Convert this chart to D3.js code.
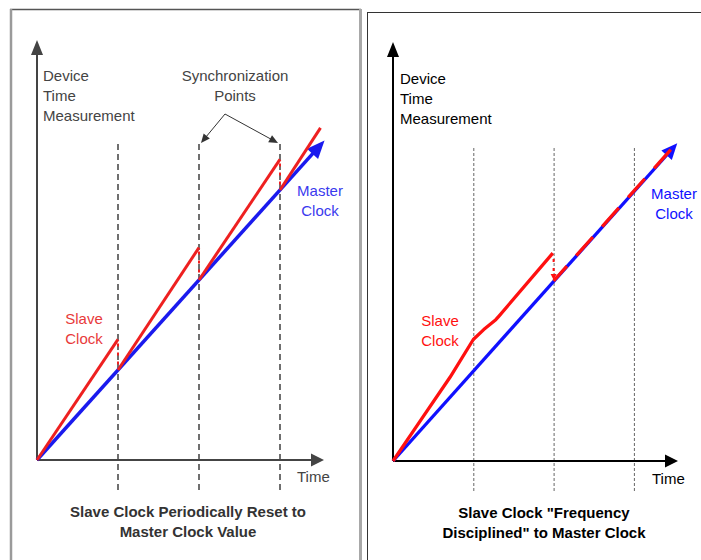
<!DOCTYPE html>
<html>
<head>
<meta charset="utf-8">
<script src="https://cdn.jsdelivr.net/npm/d3@7"></script>
<style>
  body { margin: 0; background: #fff; }
  svg text { font-family: "Liberation Sans", Arial, sans-serif; }
</style>
</head>
<body>
<div id="chart-container"></div>
<script>
/**************************************************
 * Data
 **************************************************/

// sync points on the time axis (same for both panels)
const syncTimes = [1, 2, 3];

// left panel: slave is reset to master value at each sync point
const masterLeft = [[0, 0], [3.55, 3.55]];
const slaveLeftSegments = [
  [[0, 0], [1, 1.34]],
  [[1, 1], [2, 2.36]],
  [[2, 2], [3, 3.34]],
  [[3, 3], [3.5, 3.69]]
];
// vertical jumps at the resets: [time, from, to]
const slaveLeftResets = [[1, 1.34, 1], [2, 2.36, 2], [3, 3.34, 3]];

// right panel: slave frequency disciplined, then locked onto master
const masterRight = [[0, 0], [3.54, 3.53]];
const slaveRightCurve = [
  [0, 0], [0.35, 0.46], [0.71, 0.93], [1.0, 1.35],
  [1.13, 1.46], [1.28, 1.57], [1.32, 1.61], [1.99, 2.31]
];
const slaveRightLocked = [[2, 2], [3.49, 3.49]];
const slaveRightReset = [2, 2.31, 2.0];

const yLabelLines = ["Device", "Time", "Measurement"];
const leftCaption = ["Slave Clock Periodically Reset to", "Master Clock Value"];
const rightCaption = ["Slave Clock \"Frequency", "Disciplined\" to Master Clock"];

/**************************************************
 * Helpers
 **************************************************/

const W = 701, H = 560;

const svg = d3.select("#chart-container")
  .append("svg")
  .attr("width", W)
  .attr("height", H);

// filled triangle with its tip at (x1,y1), pointing away from (x0,y0)
function arrowHead(g, x0, y0, x1, y1, len, half, color) {
  const a = Math.atan2(y1 - y0, x1 - x0);
  const bx = x1 - len * Math.cos(a), by = y1 - len * Math.sin(a);
  const px = -Math.sin(a) * half, py = Math.cos(a) * half;
  g.append("path")
    .attr("d", `M${x1},${y1}L${bx + px},${by + py}L${bx - px},${by - py}Z`)
    .attr("fill", color);
}

// line that stops short of the tip, then a head on it
function arrowLine(g, x0, y0, x1, y1, len, half, color, width) {
  const a = Math.atan2(y1 - y0, x1 - x0);
  g.append("line")
    .attr("x1", x0).attr("y1", y0)
    .attr("x2", x1 - (len - 2) * Math.cos(a))
    .attr("y2", y1 - (len - 2) * Math.sin(a))
    .attr("stroke", color)
    .attr("stroke-width", width);
  arrowHead(g, x0, y0, x1, y1, len, half, color);
}

function textLines(g, lines, x, y0, step, opts) {
  lines.forEach((t, i) => {
    g.append("text")
      .attr("x", x)
      .attr("y", y0 + i * step)
      .attr("text-anchor", opts.anchor || "start")
      .attr("font-size", opts.size || "15px")
      .attr("font-weight", opts.weight || "normal")
      .attr("fill", opts.fill || "#000")
      .text(t);
  });
}

const line = d3.line();

/**************************************************
 * Panel frames
 **************************************************/

svg.append("line").attr("x1", 10).attr("y1", 9.5).attr("x2", 361).attr("y2", 9.5)
  .attr("stroke", "#555").attr("stroke-width", 1.5);
svg.append("line").attr("x1", 11).attr("y1", 9).attr("x2", 11).attr("y2", H)
  .attr("stroke", "#9a9a9a").attr("stroke-width", 2.5);
svg.append("line").attr("x1", 360.5).attr("y1", 9).attr("x2", 360.5).attr("y2", H)
  .attr("stroke", "#a8a8a8").attr("stroke-width", 3);

svg.append("rect")
  .attr("x", 367.5).attr("y", 12.5)
  .attr("width", 400).attr("height", 600)
  .attr("fill", "none")
  .attr("stroke", "#333")
  .attr("stroke-width", 1);

/**************************************************
 * Left panel
 **************************************************/

const gl = svg.append("g");
const xL = d3.scaleLinear().domain([0, 1]).range([37, 118]);
const yL = d3.scaleLinear().domain([0, 1]).range([460, 370]);

// sync point guides
gl.selectAll(".sync")
  .data(syncTimes)
  .enter()
  .append("line")
  .attr("x1", d => xL(d)).attr("x2", d => xL(d))
  .attr("y1", 144).attr("y2", 491)
  .attr("stroke", "#333")
  .attr("stroke-width", 1.4)
  .attr("stroke-dasharray", "6,4");

// axes
arrowLine(gl, xL(0), yL(0), xL(0), 40, 15, 6, "#444", 2);
arrowLine(gl, xL(0), yL(0), 324, yL(0), 13, 6.5, "#444", 2);

// master (blue)
const mL = masterLeft.map(d => [xL(d[0]), yL(d[1])]);
arrowLine(gl, mL[0][0], mL[0][1], mL[1][0], mL[1][1], 18, 7.5, "#1a1aee", 3.5);

// slave (red)
gl.selectAll(".slave")
  .data(slaveLeftSegments)
  .enter()
  .append("path")
  .attr("d", d => line(d.map(p => [xL(p[0]), yL(p[1])])))
  .attr("fill", "none")
  .attr("stroke", "#ee2020")
  .attr("stroke-width", 3);

gl.selectAll(".reset")
  .data(slaveLeftResets)
  .enter()
  .append("line")
  .attr("x1", d => xL(d[0])).attr("x2", d => xL(d[0]))
  .attr("y1", d => yL(d[1]) + 4).attr("y2", d => yL(d[2]) - 2)
  .attr("stroke", "#ee2020")
  .attr("stroke-width", 2)
  .attr("stroke-dasharray", "3,6");

// labels
textLines(gl, yLabelLines, 43, 81, 20, { fill: "#444" });
textLines(gl, ["Synchronization", "Points"], 235, 81, 20, { anchor: "middle", fill: "#444" });
arrowLine(gl, 225, 114, xL(syncTimes[1]) + 2, 143, 9, 4, "#333", 1);
arrowLine(gl, 225, 114, xL(syncTimes[2]) - 2, 143, 9, 4, "#333", 1);
textLines(gl, ["Master", "Clock"], 320, 196, 20, { anchor: "middle", fill: "#3a3aee" });
textLines(gl, ["Slave", "Clock"], 84, 324, 20, { anchor: "middle", fill: "#e83a3a" });
textLines(gl, ["Time"], 297, 482, 20, { fill: "#444" });
textLines(gl, leftCaption, 188, 517, 20, { anchor: "middle", weight: "bold", fill: "#333" });

/**************************************************
 * Right panel
 **************************************************/

const gr = svg.append("g");
const xR = d3.scaleLinear().domain([0, 1]).range([393, 473.3]);
const yR = d3.scaleLinear().domain([0, 1]).range([461, 371]);

gr.selectAll(".sync")
  .data(syncTimes)
  .enter()
  .append("line")
  .attr("x1", d => xR(d) + 0.5).attr("x2", d => xR(d) + 0.5)
  .attr("y1", 148).attr("y2", 491)
  .attr("stroke", "#666")
  .attr("stroke-width", 1)
  .attr("stroke-dasharray", "3,2");

arrowLine(gr, xR(0), yR(0), xR(0), 42, 15, 6, "#000", 2);
arrowLine(gr, xR(0), yR(0), 678, yR(0), 13, 6.5, "#000", 2);

// master (blue)
const mR = masterRight.map(d => [xR(d[0]), yR(d[1])]);
arrowLine(gr, mR[0][0], mR[0][1], mR[1][0], mR[1][1], 16, 7, "#1010ff", 3.3);

// slave curve before lock
gr.append("path")
  .attr("d", line(slaveRightCurve.map(p => [xR(p[0]), yR(p[1])])))
  .attr("fill", "none")
  .attr("stroke", "#ff1010")
  .attr("stroke-width", 3.3)
  .attr("stroke-linejoin", "round");

// step down onto master
gr.append("line")
  .attr("x1", xR(slaveRightReset[0])).attr("x2", xR(slaveRightReset[0]))
  .attr("y1", yR(slaveRightReset[1]) + 6).attr("y2", yR(slaveRightReset[2]) - 9)
  .attr("stroke", "#ff1010")
  .attr("stroke-width", 2)
  .attr("stroke-dasharray", "3,6");
arrowHead(gr, xR(slaveRightReset[0]), yR(slaveRightReset[1]),
  xR(slaveRightReset[0]), yR(slaveRightReset[2]) - 1, 6, 3, "#ff1010");

// slave locked: red dashes laid over the blue line
gr.append("path")
  .attr("d", line(slaveRightLocked.map(p => [xR(p[0]), yR(p[1])])))
  .attr("fill", "none")
  .attr("stroke", "#ff1010")
  .attr("stroke-width", 3.3)
  .attr("stroke-dasharray", "25,14")
  .attr("stroke-dashoffset", 5);

textLines(gr, yLabelLines, 400, 84, 20, {});
textLines(gr, ["Master", "Clock"], 674, 199, 20, { anchor: "middle", fill: "#1010ff" });
textLines(gr, ["Slave", "Clock"], 440, 326, 20, { anchor: "middle", fill: "#ff1010" });
textLines(gr, ["Time"], 652, 484, 20, {});
textLines(gr, rightCaption, 544, 518, 20, { anchor: "middle", weight: "bold" });
</script>
</body>
</html>
